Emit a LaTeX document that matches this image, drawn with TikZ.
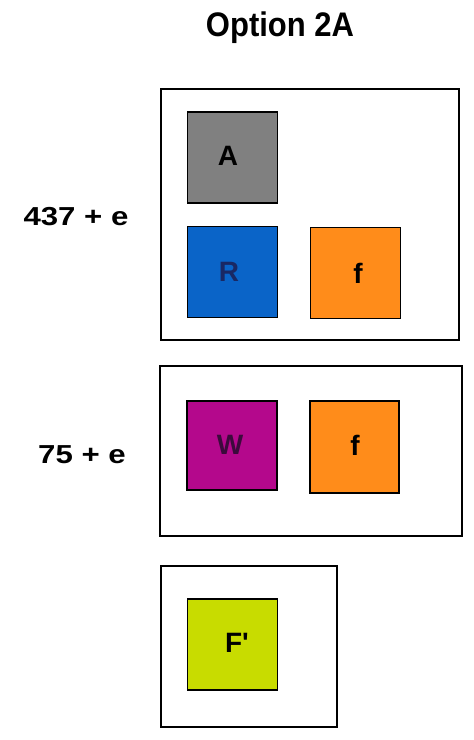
\documentclass[tikz,border=0pt]{standalone}
\usepackage{fontspec}
\setmainfont{Liberation Sans}
\definecolor{cgray}{RGB}{128,128,128}
\definecolor{cblue}{RGB}{10,100,200}
\definecolor{corange}{RGB}{255,140,26}
\definecolor{cmag}{RGB}{180,8,140}
\definecolor{cgreen}{RGB}{200,220,0}
\definecolor{navy}{RGB}{25,40,100}
\definecolor{plum}{RGB}{60,10,60}
\begin{document}
\begin{tikzpicture}[x=1pt,y=-1pt,
  group/.style={draw=black,line width=2pt},
  sq/.style={draw=black,line width=1.6pt,minimum width=90pt,minimum height=91pt,inner sep=0pt,font=\bfseries\fontsize{28}{28}\selectfont},
  lbl/.style={font=\bfseries\fontsize{26}{26}\selectfont}]
\useasboundingbox (0,0) rectangle (474,740);
\fill[white] (0,0) rectangle (474,740);
\node[font=\bfseries\fontsize{31}{31}\selectfont] (title) at (280,28) {\scalebox{1}[1.1]{Option 2A}};
\draw[group] (161,89) rectangle (459,340);
\draw[group] (160,366) rectangle (462,536);
\draw[group] (161,566) rectangle (337,727);
\node[sq,fill=cgray] (a) at (232.5,157.5) {};
\node[sq,fill=cblue] (r) at (232.5,272) {};
\node[sq,fill=corange] (f1) at (355.5,273) {};
\node[sq,fill=cmag,minimum height=89pt] (w) at (232,445.5) {};
\node[sq,fill=corange,minimum height=92pt,minimum width=89pt] (f2) at (354.5,447) {};
\node[sq,fill=cgreen] (fp) at (232.5,644.5) {};
\node[font=\bfseries\fontsize{28}{28}\selectfont] (ta) at (228,156) {A};
\node[font=\bfseries\fontsize{28}{28}\selectfont,text=navy] (tr) at (229,272) {R};
\node[font=\bfseries\fontsize{28}{28}\selectfont,text=black] (tf1) at (358,273) {f};
\node[font=\bfseries\fontsize{28}{28}\selectfont,text=plum] (tw) at (230,445) {W};
\node[font=\bfseries\fontsize{28}{28}\selectfont] (tf2) at (355,445) {f};
\node[font=\bfseries\fontsize{28}{28}\selectfont] (tfp) at (237,643) {F\textquotesingle};
\node[lbl] (l1) at (76,217) {\scalebox{1.2}[1]{437 + e}};
\node[lbl] (l2) at (82,455) {\scalebox{1.2}[1]{75 + e}};
\end{tikzpicture}
\end{document}
